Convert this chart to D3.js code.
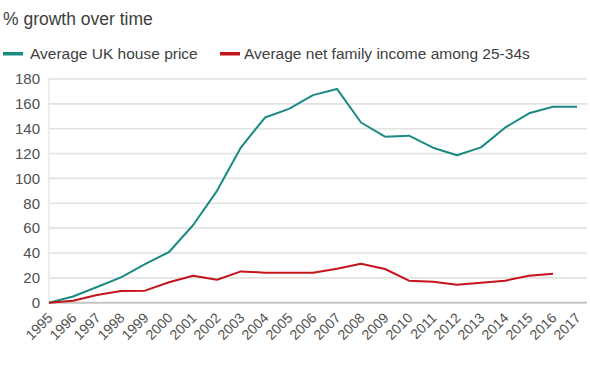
<!DOCTYPE html>
<html><head><meta charset="utf-8">
<script src="https://cdn.jsdelivr.net/npm/d3@7"></script>
<style>body{margin:0;background:#fff;} svg{display:block;font-family:"Liberation Sans",Arial,sans-serif;}</style>
</head><body>
<svg id="c" width="590" height="369"></svg>
<script>
const years = [1995,1996,1997,1998,1999,2000,2001,2002,2003,2004,2005,2006,2007,2008,2009,2010,2011,2012,2013,2014,2015,2016,2017];
const housePrice = [0,5,12.6,20.4,31,40.8,62.3,90,125,149,156,167,172,145,133.6,134.4,124.7,118.6,125,140.8,152.4,157.7,157.7];
const familyIncome = [0,1.6,6.2,9.4,9.7,16.4,21.7,18.5,25.2,24.1,24.1,24.1,27.4,31.4,27.1,17.7,16.9,14.5,16.1,17.7,21.7,23.3];
const yTicks = [0,20,40,60,80,100,120,140,160,180];
const seriesNames = ["Average UK house price","Average net family income among 25-34s"];
const colors = ["#1b8a82","#c4151c"];

const svg = d3.select("#c");
const x = d3.scaleLinear().domain([1995,2017]).range([49,577]);
const y = d3.scaleLinear().domain([0,180]).range([302.7,79]);

svg.append("text").attr("x",3).attr("y",25).attr("font-size",17.5).attr("fill","#404040").text("% growth over time");

// legend
const lg = [[3,30],[220,244]];
seriesNames.forEach((n,i)=>{
  svg.append("rect").attr("x",lg[i][0]).attr("y",52).attr("width",20).attr("height",3.5).attr("fill",colors[i]);
  svg.append("text").attr("x",lg[i][1]).attr("y",58.5).attr("font-size",15.5).attr("fill","#404040").text(n);
});

// gridlines
svg.append("g").selectAll("line").data(yTicks.filter(d=>d>0)).join("line")
  .attr("x1",49).attr("x2",587).attr("y1",d=>y(d)).attr("y2",d=>y(d))
  .attr("stroke","#e2e2e2").attr("stroke-width",1.6);
svg.append("line").attr("x1",49).attr("x2",49).attr("y1",y(180)-2).attr("y2",y(0)).attr("stroke","#e2e2e2").attr("stroke-width",1.2);
svg.append("line").attr("x1",49).attr("x2",587).attr("y1",y(0)).attr("y2",y(0)).attr("stroke","#c4c4c4").attr("stroke-width",2);

// y axis labels
const ya = svg.append("g").attr("transform","translate(40,0)").call(d3.axisLeft(y).tickValues(yTicks).tickSize(0).tickPadding(0));
ya.select(".domain").remove();
ya.selectAll("text").attr("font-size",15).attr("fill","#505050").attr("font-family","Liberation Sans, Arial, sans-serif");

// x axis labels
const xa = svg.append("g").attr("transform","translate(0,"+y(0)+")").call(d3.axisBottom(x).tickValues(years).tickFormat(d3.format("d")).tickSize(0));
xa.select(".domain").remove();
xa.selectAll("text").attr("font-size",14).attr("fill","#505050").attr("font-family","Liberation Sans, Arial, sans-serif")
  .attr("text-anchor","end").attr("dy",0).attr("y",0)
  .attr("transform","translate(4,16) rotate(-45)");

const line = d3.line().x((d,i)=>x(years[i])).y(d=>y(d));
[housePrice,familyIncome].forEach((s,i)=>{
  svg.append("path").datum(s).attr("d",line).attr("fill","none").attr("stroke",colors[i]).attr("stroke-width",2).attr("stroke-linejoin","round");
});
</script>
</body></html>
